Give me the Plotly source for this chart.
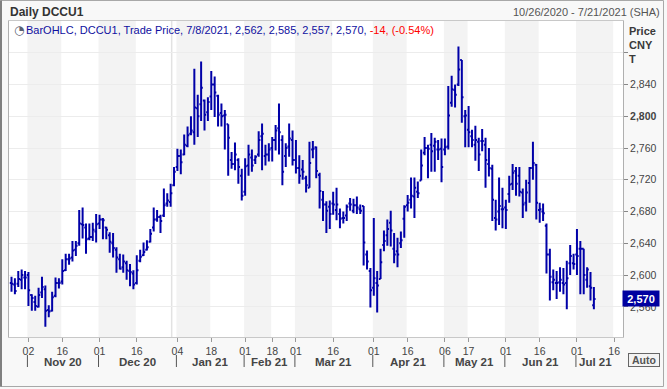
import pandas as pd
import plotly.graph_objects as go

# ---------------- data ----------------
holidays = ["2021-01-01", "2021-02-11", "2021-02-12", "2021-02-15", "2021-02-16",
            "2021-02-17", "2021-04-05", "2021-05-03", "2021-05-04", "2021-05-05",
            "2021-06-14"]
axis_days = [d for d in pd.bdate_range("2020-10-26", "2021-07-21")
             if d.strftime("%Y-%m-%d") not in holidays]

opens = [2590, 2588, 2589, 2594, 2597, 2600, 2575, 2566, 2560, 2578,
         2582, 2556, 2555, 2574, 2590, 2592, 2606, 2620, 2622, 2632,
         2640, 2664, 2660, 2646, 2648, 2655, 2665, 2670, 2660, 2650,
         2640, 2632, 2620, 2610, 2615, 2605, 2602, 2590, 2618, 2625,
         2632, 2642, 2660, 2670, 2673, 2675, 2690, 2692, 2713, 2736,
         2750, 2752, 2763, 2778, 2780, 2810, 2815, 2820, 2805, 2825,
         2840, 2826, 2804, 2801, 2790, 2745, 2740, 2745, 2725, 2705,
         2738, 2748, 2745, 2752, 2775, 2750, 2752, 2760, 2770, 2785,
         2770, 2750, 2762, 2770, 2745, 2735, 2733, 2722, 2710, 2758,
         2761, 2726, 2695, 2689, 2686, 2690, 2682, 2677, 2672, 2675,
         2690, 2681, 2688, 2683, 2687, 2626, 2605, 2584, 2590, 2595,
         2638, 2650, 2666, 2633, 2630, 2640, 2671, 2688, 2695, 2699,
         2705, 2719, 2754, 2760, 2764, 2763, 2758, 2759, 2758, 2762,
         2817, 2833, 2840, 2871, 2800, 2783, 2775, 2764, 2768, 2769,
         2764, 2740, 2734, 2672, 2680, 2683, 2685, 2702, 2715, 2731,
         2725, 2704, 2691, 2716, 2735, 2739, 2682, 2680, 2662, 2626,
         2591, 2590, 2591, 2590, 2590, 2615, 2615, 2626, 2633, 2633,
         2594, 2586, 2562]
highs = [2598, 2596, 2605, 2607, 2605, 2604, 2576, 2574, 2584, 2598,
         2587, 2562, 2579, 2597, 2596, 2620, 2627, 2627, 2643, 2643,
         2682, 2685, 2665, 2665, 2666, 2677, 2676, 2672, 2661, 2654,
         2653, 2635, 2627, 2626, 2618, 2614, 2606, 2625, 2632, 2641,
         2644, 2658, 2685, 2682, 2676, 2709, 2703, 2715, 2736, 2759,
         2758, 2777, 2787, 2800, 2860, 2827, 2869, 2821, 2824, 2857,
         2850, 2827, 2816, 2808, 2790, 2755, 2767, 2747, 2734, 2747,
         2764, 2758, 2751, 2781, 2791, 2764, 2766, 2774, 2789, 2816,
         2776, 2766, 2791, 2782, 2770, 2751, 2745, 2725, 2768, 2769,
         2762, 2729, 2706, 2693, 2694, 2705, 2710, 2684, 2680, 2689,
         2697, 2696, 2699, 2689, 2687, 2631, 2609, 2672, 2605, 2633,
         2656, 2670, 2681, 2653, 2647, 2655, 2688, 2701, 2723, 2723,
         2718, 2758, 2774, 2764, 2779, 2773, 2770, 2772, 2772, 2838,
         2851, 2840, 2888, 2871, 2808, 2813, 2783, 2788, 2773, 2784,
         2773, 2760, 2739, 2695, 2723, 2710, 2695, 2725, 2740, 2736,
         2736, 2709, 2720, 2736, 2768, 2740, 2691, 2690, 2665, 2633,
         2607, 2605, 2610, 2609, 2618, 2638, 2627, 2658, 2643, 2633,
         2610, 2604, 2585]
lows = [2579, 2576, 2585, 2582, 2582, 2561, 2555, 2555, 2559, 2571,
        2535, 2547, 2554, 2572, 2583, 2588, 2605, 2613, 2617, 2624,
        2637, 2646, 2627, 2644, 2643, 2641, 2658, 2645, 2645, 2628,
        2622, 2603, 2607, 2603, 2594, 2586, 2582, 2588, 2616, 2624,
        2631, 2641, 2655, 2667, 2653, 2673, 2686, 2686, 2712, 2731,
        2727, 2751, 2761, 2776, 2764, 2774, 2794, 2782, 2794, 2808,
        2799, 2787, 2787, 2758, 2725, 2734, 2732, 2715, 2694, 2700,
        2725, 2730, 2740, 2749, 2732, 2738, 2743, 2743, 2757, 2752,
        2713, 2736, 2749, 2738, 2728, 2715, 2720, 2704, 2710, 2747,
        2722, 2684, 2668, 2653, 2658, 2676, 2669, 2659, 2665, 2668,
        2681, 2678, 2677, 2677, 2612, 2607, 2559, 2574, 2553, 2595,
        2630, 2637, 2636, 2615, 2610, 2634, 2647, 2680, 2684, 2672,
        2697, 2719, 2751, 2722, 2730, 2730, 2745, 2717, 2751, 2758,
        2812, 2811, 2838, 2792, 2761, 2761, 2761, 2744, 2731, 2756,
        2710, 2724, 2668, 2656, 2663, 2659, 2658, 2691, 2707, 2700,
        2699, 2672, 2680, 2691, 2720, 2670, 2666, 2668, 2602, 2568,
        2581, 2570, 2579, 2576, 2557, 2600, 2607, 2600, 2576, 2576,
        2584, 2568, 2557]
closes = [2589, 2580, 2595, 2600, 2597, 2581, 2571, 2561, 2575, 2585,
          2555, 2554, 2572, 2590, 2590, 2605, 2620, 2621, 2631, 2637,
          2665, 2663, 2645, 2648, 2657, 2664, 2670, 2669, 2657, 2642,
          2634, 2622, 2608, 2617, 2606, 2604, 2588, 2606, 2623, 2629,
          2635, 2652, 2670, 2673, 2668, 2688, 2694, 2703, 2730, 2750,
          2742, 2764, 2776, 2782, 2811, 2800, 2836, 2802, 2818, 2840,
          2830, 2802, 2800, 2802, 2773, 2740, 2752, 2736, 2700, 2737,
          2752, 2738, 2749, 2770, 2778, 2752, 2758, 2770, 2782, 2780,
          2730, 2760, 2772, 2745, 2735, 2725, 2730, 2713, 2741, 2759,
          2731, 2706, 2689, 2681, 2677, 2689, 2689, 2671, 2672, 2686,
          2689, 2688, 2685, 2681, 2641, 2617, 2581, 2596, 2587, 2616,
          2643, 2658, 2656, 2626, 2626, 2644, 2686, 2691, 2700, 2710,
          2703, 2738, 2760, 2759, 2756, 2768, 2758, 2736, 2761, 2801,
          2834, 2827, 2859, 2824, 2801, 2780, 2770, 2770, 2752, 2769,
          2745, 2735, 2695, 2670, 2687, 2683, 2682, 2714, 2729, 2715,
          2705, 2689, 2704, 2735, 2741, 2691, 2683, 2678, 2626, 2598,
          2594, 2590, 2594, 2588, 2596, 2624, 2614, 2624, 2633, 2600,
          2607, 2584, 2570]

y_ticks = [2560, 2600, 2640, 2680, 2720, 2760, 2800, 2840, 2880]
bold_tick = 2800
hidden_tick = 2880

n = len(closes)
dates = axis_days[:n]
xs = list(range(n))

# ---------------- geometry helpers (style only) ----------------
W, H = 667, 389
ML, MR, MT, MB = 9, 44, 21, 52
PW, PH = W - ML - MR, H - MT - MB
X_RANGE = [-0.74, 180.6]
Y_RANGE = [2522, 2920]


def px_x(p):
    return (p - ML) / PW


def px_y(p):
    return (H - MB - p) / PH


def idx_paper(i):
    return (i - X_RANGE[0]) / (X_RANGE[1] - X_RANGE[0])


FONT = "Liberation Sans, Arial, sans-serif"
NAVY = "#0000A8"

# ---------------- month structure from the trading calendar ----------------
months = []  # [key, first_idx, mid16_idx, first_date]
for i, d in enumerate(axis_days):
    key = (d.year, d.month)
    if not months or months[-1][0] != key:
        months.append([key, i, None, d])
    if months[-1][2] is None and d.day >= 16:
        months[-1][2] = i
full_months = [m for m in months if m[3].day <= 7]

tickvals, ticktext = [], []
for m in full_months:
    tickvals.append(m[1]); ticktext.append(axis_days[m[1]].strftime("%d"))
    if m[2] is not None:
        tickvals.append(m[2]); ticktext.append(axis_days[m[2]].strftime("%d"))

fig = go.Figure()
fig.add_trace(go.Ohlc(
    x=xs, open=opens, high=highs, low=lows, close=closes,
    increasing=dict(line=dict(color=NAVY, width=2)),
    decreasing=dict(line=dict(color=NAVY, width=2)),
    tickwidth=0.5, hoverinfo="skip", showlegend=False))

shapes = []
# alternating half-month bands
for m in full_months:
    if m[2] is not None:
        shapes.append(dict(type="rect", xref="x", yref="paper", x0=m[1] - 0.3, x1=m[2] - 0.3,
                           y0=0, y1=1, fillcolor="#f3f3f3", line=dict(width=0), layer="below"))
# year boundary line
jan_idx = [m[1] for m in full_months if m[3].month == 1][0]
shapes.append(dict(type="line", xref="x", yref="paper", x0=jan_idx - 1.7, x1=jan_idx - 1.7,
                   y0=0, y1=1, line=dict(color="#e2e2e2", width=1.5), layer="below"))
# month separators below axis
for m in full_months:
    xp = idx_paper(m[1] - 0.3)
    shapes.append(dict(type="line", xref="paper", yref="paper", x0=xp, x1=xp,
                       y0=px_y(355), y1=px_y(367), line=dict(color="#555", width=1)))
# outer frame
shapes.append(dict(type="rect", xref="paper", yref="paper", x0=px_x(0.5), x1=px_x(663.5),
                   y0=px_y(386.5), y1=px_y(0.5), line=dict(color="#a8a8a8", width=1)))
shapes.append(dict(type="line", xref="paper", yref="paper", x0=px_x(1), x1=px_x(1),
                   y0=px_y(386.5), y1=px_y(0.5), line=dict(color="#808080", width=2)))

annotations = []
for k, m in enumerate(full_months):
    if k + 1 < len(full_months):
        cx = (m[1] + full_months[k + 1][1]) / 2 - 0.3
    else:
        cx = (m[1] + m[2]) / 2
    annotations.append(dict(x=cx, y=px_y(362), xref="x", yref="paper", showarrow=False,
                            text="<b>%s</b>" % axis_days[m[1]].strftime("%b %y"),
                            font=dict(family=FONT, size=11.5, color="#454545"),
                            xanchor="center", yanchor="middle"))

# header
first_d, last_d = axis_days[0], axis_days[-1]
annotations.append(dict(x=px_x(8), y=px_y(12), xref="paper", yref="paper", showarrow=False,
                        text="<b>Daily DCCU1</b>", xanchor="left", yanchor="middle",
                        font=dict(family=FONT, size=12, color="#333")))
annotations.append(dict(x=px_x(662), y=px_y(12), xref="paper", yref="paper", showarrow=False,
                        text="%d/%d/%d - %d/%d/%d (SHA)" % (first_d.month, first_d.day, first_d.year,
                                                            last_d.month, last_d.day, last_d.year),
                        xanchor="right", yanchor="middle",
                        font=dict(family=FONT, size=11, color="#555")))

# legend line
ld = dates[-1]
chg = closes[-1] - closes[-2]
pct = chg / closes[-2] * 100
blue_txt = "BarOHLC, DCCU1, Trade Price, %d/%d/%d, %s, %s, %s, %s, " % (
    ld.month, ld.day, ld.year, f"{opens[-1]:,}", f"{highs[-1]:,}", f"{lows[-1]:,}", f"{closes[-1]:,}")
red_txt = "%s, (%.2f%%)" % (f"{chg:,}", pct)
annotations.append(dict(x=px_x(12), y=px_y(30), xref="paper", yref="paper", showarrow=False,
                        text="◔", xanchor="left", yanchor="middle",
                        font=dict(family="DejaVu Sans", size=12, color="#5a6070")))
annotations.append(dict(x=px_x(24), y=px_y(30), xref="paper", yref="paper", showarrow=False,
                        text="<span style='color:%s'>%s</span><span style='color:#ff0000'>%s</span>" % (
                            "#1010a0", blue_txt, red_txt),
                        xanchor="left", yanchor="middle",
                        font=dict(family=FONT, size=11, color="#1010a0")))

# right axis title
for txt, py in [("Price", 31), ("CNY", 45), ("T", 59)]:
    annotations.append(dict(x=px_x(627), y=px_y(py), xref="paper", yref="paper", showarrow=False,
                            text="<b>%s</b>" % txt, xanchor="left", yanchor="middle",
                            font=dict(family=FONT, size=11, color="#3a3a3a")))

# last price marker
annotations.append(dict(x=1, y=closes[-1], xref="paper", yref="y", showarrow=False,
                        text="<b>%s</b>" % f"{closes[-1]:,}", xanchor="left", yanchor="middle",
                        xshift=-1, bgcolor="#0000a0", width=34, height=13, borderpad=1,
                        font=dict(family=FONT, size=11, color="white")))
# Auto button
annotations.append(dict(x=px_x(628), y=px_y(359.5), xref="paper", yref="paper", showarrow=False,
                        text="<b>Auto</b>", xanchor="left", yanchor="middle",
                        bgcolor="#f3f3f3", bordercolor="#666", borderwidth=1, borderpad=1,
                        width=28, height=10,
                        font=dict(family=FONT, size=10.5, color="#555")))

ytext = []
for v in y_ticks:
    if v == hidden_tick:
        ytext.append("")
    elif v == bold_tick:
        ytext.append("<b>%s</b>" % f"{v:,}")
    else:
        ytext.append(f"{v:,}")

fig.update_layout(
    width=W, height=H, margin=dict(l=ML, r=MR, t=MT, b=MB),
    paper_bgcolor="#f8f8f8", plot_bgcolor="white",
    shapes=shapes, annotations=annotations, showlegend=False,
    xaxis=dict(range=X_RANGE, tickvals=tickvals, ticktext=ticktext,
               tickfont=dict(family=FONT, size=10.5, color="#444"),
               ticks="outside", ticklen=4, tickcolor="#999", showgrid=False,
               showline=True, linecolor="#c8c8c8", mirror=True, zeroline=False,
               rangeslider=dict(visible=False), fixedrange=True),
    yaxis=dict(range=Y_RANGE, side="right", tickvals=y_ticks, ticktext=ytext,
               tickfont=dict(family=FONT, size=10.5, color="#444"),
               ticks="outside", ticklen=4, tickcolor="#888", gridcolor="#ececec",
               showline=True, linecolor="#b0b0b0", mirror=True, zeroline=False,
               fixedrange=True),
)

fig.write_html("out.html", config={"displayModeBar": False},
               post_script="document.body.style.margin='0px';document.body.style.overflow='hidden';")
